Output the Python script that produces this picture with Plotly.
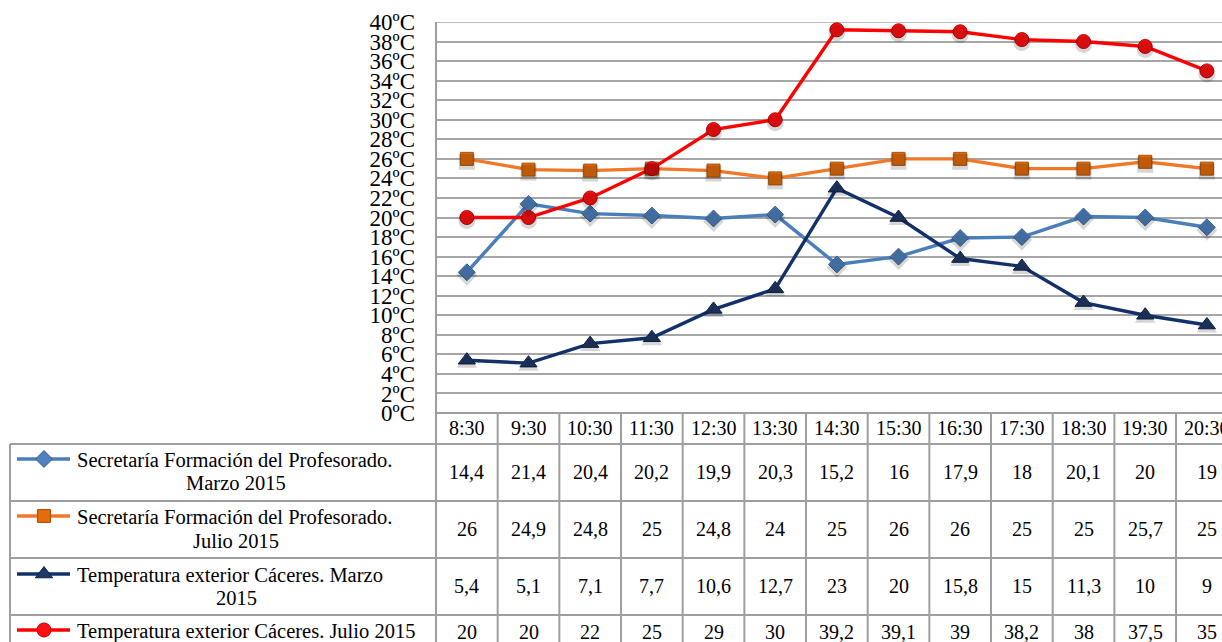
import plotly.graph_objects as go

# Hourly readings (ºC)
horas = ["8:30", "9:30", "10:30", "11:30", "12:30", "13:30", "14:30",
         "15:30", "16:30", "17:30", "18:30", "19:30", "20:30"]

sec_marzo = [14.4, 21.4, 20.4, 20.2, 19.9, 20.3, 15.2, 16, 17.9, 18, 20.1, 20, 19]
sec_julio = [26, 24.9, 24.8, 25, 24.8, 24, 25, 26, 26, 25, 25, 25.7, 25]
ext_marzo = [5.4, 5.1, 7.1, 7.7, 10.6, 12.7, 23, 20, 15.8, 15, 11.3, 10, 9]
ext_julio = [20, 20, 22, 25, 29, 30, 39.2, 39.1, 39, 38.2, 38, 37.5, 35]

nombres = [
    ["Secretaría Formación del Profesorado.", "Marzo 2015"],
    ["Secretaría Formación del Profesorado.", "Julio 2015"],
    ["Temperatura exterior Cáceres. Marzo", "2015"],
    ["Temperatura exterior Cáceres. Julio 2015"],
]

W, H = 1222, 642
FONT = "Liberation Serif"
GRID = "#A6A6A6"
TABLE = "#9E9E9E"

estilos = [
    dict(line="#4A7EBB", fill="#4F81BD", edge="#385D8A", symbol="diamond", size=13),
    dict(line="#F07828", fill="#E46C0A", edge="#A5520E", symbol="square", size=13),
    dict(line="#12306A", fill="#1F3864", edge="#0B1F45", symbol="triangle-up", size=15),
    dict(line="#FF0000", fill="#FF1010", edge="#C00000", symbol="circle", size=14),
]
series = [sec_marzo, sec_julio, ext_marzo, ext_julio]

# pixel layout of plot area and table
X0, COLW = 436, 61.67
Y_TOP, Y_ZERO = 22, 413
HEAD_BOTTOM = 444
ROW_LINES = [501, 558, 615]
ROW_TEXT_Y = [472, 529, 586, 632]
LEG_LINE_Y = [[460, 483], [517, 541], [575, 598], [631]]
SHADOW_DY = 3

idx = list(range(len(horas)))
fig = go.Figure()

# soft drop shadows under the markers (same data, y axis nudged down a few px)
for vals, st in zip(series, estilos):
    fig.add_trace(go.Scatter(
        x=idx, y=vals, mode="markers",
        marker=dict(symbol=st["symbol"], size=st["size"] + 3, color="rgba(0,0,0,0.16)",
                    line=dict(width=0)),
        cliponaxis=False, showlegend=False, hoverinfo="skip", xaxis="x", yaxis="y3"))

for vals, st in zip(series, estilos):
    fig.add_trace(go.Scatter(
        x=idx, y=vals, mode="lines+markers",
        line=dict(color=st["line"], width=3.4),
        marker=dict(symbol=st["symbol"], size=st["size"], color=st["fill"],
                    line=dict(color=st["edge"], width=1)),
        cliponaxis=False, showlegend=False, xaxis="x", yaxis="y"))

# legend keys inside the table (pixel axes)
for r, st in enumerate(estilos):
    ly = LEG_LINE_Y[r][0] - 1
    fig.add_trace(go.Scatter(
        x=[17, 44, 70], y=[ly, ly, ly], mode="lines",
        line=dict(color=st["line"], width=3.4), showlegend=False,
        xaxis="x2", yaxis="y2", hoverinfo="skip"))
    fig.add_trace(go.Scatter(
        x=[44], y=[ly], mode="markers",
        marker=dict(symbol=st["symbol"], size=st["size"], color=st["fill"],
                    line=dict(color=st["edge"], width=1)),
        showlegend=False, xaxis="x2", yaxis="y2", hoverinfo="skip", cliponaxis=False))

x_lo = -0.5
x_hi = -0.5 + (W - X0) / COLW
y_dom = [(H - Y_ZERO) / H, (H - Y_TOP) / H]

fig.update_layout(
    width=W, height=H, margin=dict(l=0, r=0, t=0, b=0, autoexpand=False),
    paper_bgcolor="white", plot_bgcolor="rgba(0,0,0,0)",
    xaxis=dict(domain=[X0 / W, 1], range=[x_lo, x_hi], showgrid=False, automargin=False,
               zeroline=False, showline=False, showticklabels=False, fixedrange=True),
    yaxis=dict(domain=y_dom, range=[0, 40], dtick=2,
               tick0=0, showgrid=True, gridcolor=GRID, gridwidth=1.5, zeroline=False,
               showline=False, ticks="", ticksuffix="ºC", ticklabelstandoff=20,
               automargin=False,
               tickfont=dict(family=FONT, size=23, color="black"), fixedrange=True),
    yaxis3=dict(domain=[y_dom[0] - SHADOW_DY / H, y_dom[1] - SHADOW_DY / H], range=[0, 40],
                visible=False, showgrid=False, anchor="x", automargin=False, fixedrange=True),
    xaxis2=dict(domain=[0, 1], range=[0, W], visible=False, anchor="y2",
                automargin=False, fixedrange=True),
    yaxis2=dict(domain=[0, 1], range=[H, 0], visible=False, anchor="x2",
                automargin=False, fixedrange=True),
)

shapes = []


def hline(y, x0, x1, xref="x2"):
    shapes.append(dict(type="line", xref=xref, yref="y2", x0=x0, x1=x1, y0=y, y1=y,
                       line=dict(color=TABLE, width=2), layer="below"))


# top gridline and table borders
shapes.append(dict(type="line", xref="x", yref="y", x0=x_lo, x1=x_hi, y0=40, y1=40,
                   line=dict(color=GRID, width=1.5), layer="below"))
hline(Y_ZERO, X0, W)
hline(HEAD_BOTTOM, 10, W)
for y in ROW_LINES:
    hline(y, 10, W)
shapes.append(dict(type="line", xref="x2", yref="y2", x0=X0, x1=X0, y0=Y_TOP, y1=H,
                   line=dict(color=TABLE, width=2), layer="below"))
shapes.append(dict(type="line", xref="x2", yref="y2", x0=10, x1=10, y0=HEAD_BOTTOM, y1=H,
                   line=dict(color=TABLE, width=2), layer="below"))
for i in idx[:-1]:
    shapes.append(dict(type="line", xref="x", yref="y2", x0=i + 0.5, x1=i + 0.5,
                       y0=Y_ZERO, y1=H, line=dict(color=TABLE, width=2), layer="below"))

annotations = []
tf = dict(family=FONT, size=20, color="black")
lf = dict(family=FONT, size=20.5, color="black")


def fmt(v):
    return f"{v:g}".replace(".", ",")


for i, h in enumerate(horas):
    annotations.append(dict(x=i, y=428, xref="x", yref="y2", text=h, showarrow=False,
                            font=tf, xanchor="center", yanchor="middle"))
    for r, vals in enumerate(series):
        annotations.append(dict(x=i, y=ROW_TEXT_Y[r], xref="x", yref="y2", text=fmt(vals[i]),
                                showarrow=False, font=tf, xanchor="center", yanchor="middle"))

for r, lines in enumerate(nombres):
    for k, txt in enumerate(lines):
        if k == 0:
            annotations.append(dict(x=75, y=LEG_LINE_Y[r][k], xref="x2", yref="y2", text=txt,
                                    showarrow=False, font=lf, xanchor="left", yanchor="middle"))
        else:
            annotations.append(dict(x=236, y=LEG_LINE_Y[r][k], xref="x2", yref="y2", text=txt,
                                    showarrow=False, font=lf, xanchor="center", yanchor="middle"))

fig.update_layout(shapes=shapes, annotations=annotations)
fig.write_html("out.html")
